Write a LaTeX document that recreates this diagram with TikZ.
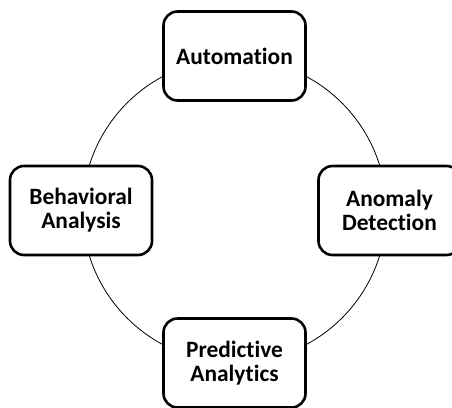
\documentclass[tikz,border=0pt]{standalone}
\usepackage{fontspec}
\setmainfont[Ligatures=NoCommon]{Carlito}

\tikzset{
  stage/.style={draw, line width=2.6pt, rounded corners=14pt, fill=white,
    minimum width=142pt, minimum height=89pt, inner sep=0pt, align=center,
    font=\fontsize{23.4}{24}\selectfont\bfseries},
  ring/.style={line width=0.8pt},
}

\begin{document}
\begin{tikzpicture}[x=1pt,y=-1pt]
\useasboundingbox (0,0) rectangle (452,407);
\clip (0,0) rectangle (452,407);

% the cycle behind the boxes
\coordinate (hub) at (234.5,210.5);
\draw[ring] (hub) circle (152pt);

\node[stage] (automation) at (234.5,56) {Automation};
\node[stage] (anomaly) at (389.5,210.5) {Anomaly\\Detection};
\node[stage] (predictive) at (234.5,363) {Predictive\\Analytics};
\node[stage] (behavioral) at (81,210.5) {Behavioral\\Analysis};
\end{tikzpicture}
\end{document}
